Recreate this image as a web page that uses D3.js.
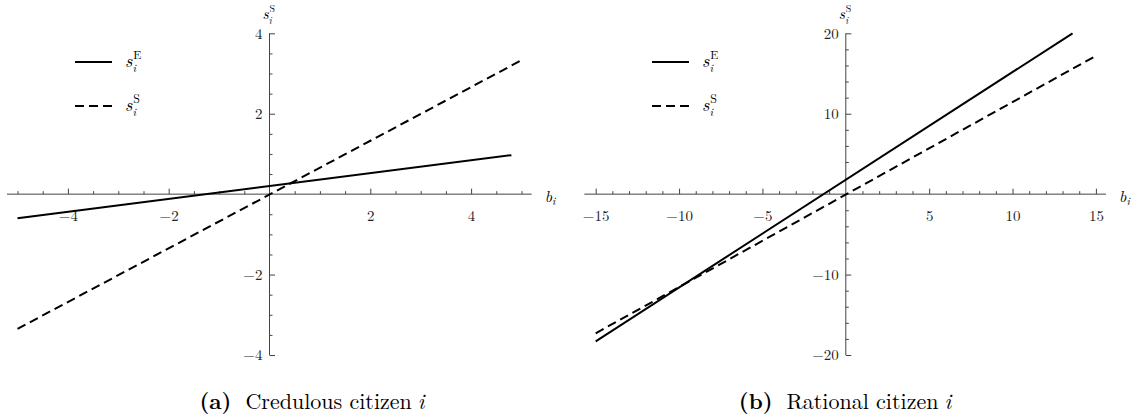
<!DOCTYPE html>
<html>
<head>
<meta charset="utf-8">
<script src="https://cdn.jsdelivr.net/npm/d3@7/dist/d3.min.js"></script>
<style>
  body { margin: 0; background: #fff; }
  svg { display: block; }
</style>
</head>
<body>
<svg id="chart" width="1136" height="419"></svg>
<script>
// ---------- DATA ----------
// panel (a): credulous citizen
const credXDomain = [-5, 5];
const credYDomain = [-4, 4];
const credXTicks = [-4, -2, 2, 4];
const credYTicks = [-4, -2, 2, 4];
const credMinorStep = 0.5;
const credSE = [{ b: -5, s: -0.6 }, { b: 4.8, s: 0.97 }];   // s_i^E (solid)
const credSS = [{ b: -5, s: -3.35 }, { b: 5, s: 3.33 }];    // s_i^S (dashed)

// panel (b): rational citizen
const ratXDomain = [-15, 15];
const ratYDomain = [-20, 20];
const ratXTicks = [-15, -10, -5, 5, 10, 15];
const ratYTicks = [-20, -10, 10, 20];
const ratXMinorStep = 1;
const ratYMinorStep = 2;
const ratSE = [{ b: -15, s: -18.3 }, { b: 13.6, s: 20 }];    // s_i^E (solid)
const ratSS = [{ b: -15, s: -17.3 }, { b: 15, s: 17.2 }];    // s_i^S (dashed)

const legendSup = ["E", "S"];
const captionTags = ["(a)", "(b)"];
const captionTexts = ["Credulous citizen", "Rational citizen"];

// ---------- DRAWING ----------
const svg = d3.select("#chart");
const serif = '"Latin Modern Roman", "CMU Serif", "Liberation Serif", serif';
const axisColor = "#444";
const fmt = d => (d < 0 ? "\u2212" + Math.abs(d) : String(d));

function txt(g) {
  return g.append("text").style("font-family", serif);
}

// s with stacked subscript i and superscript, as ONE text element
function mathS(g, x, y, size, sup) {
  const t = txt(g).attr("x", x).attr("y", y).style("font-size", size + "px");
  t.append("tspan").style("font-style", "italic").text("s");
  const w = t.node().getComputedTextLength();
  t.append("tspan").attr("x", x + w + 0.8).attr("y", y - size * 0.46)
    .style("font-size", (size * 0.66) + "px").text(sup);
  t.append("tspan").attr("x", x + w + 0.2).attr("y", y + size * 0.3)
    .style("font-size", (size * 0.64) + "px").style("font-style", "italic").text("i");
}

function panel(cfg) {
  const g = svg.append("g");
  const x = d3.scaleLinear().domain(cfg.xDomain).range(cfg.xRange);
  const y = d3.scaleLinear().domain(cfg.yDomain).range([355, 33.3]);
  const x0 = x(0), y0 = y(0);

  g.append("line").attr("x1", cfg.xLine[0]).attr("x2", cfg.xLine[1])
    .attr("y1", y0).attr("y2", y0).attr("stroke", axisColor).attr("stroke-width", 1);
  g.append("line").attr("x1", x0).attr("x2", x0)
    .attr("y1", y(cfg.yDomain[0])).attr("y2", y(cfg.yDomain[1]))
    .attr("stroke", axisColor).attr("stroke-width", 1);

  const minorX = d3.range(cfg.xDomain[0], cfg.xDomain[1] + 1e-9, cfg.xMinor)
    .filter(v => Math.abs(v) > 1e-9 && !cfg.xTicks.includes(v));
  const minorY = d3.range(cfg.yDomain[0], cfg.yDomain[1] + 1e-9, cfg.yMinor)
    .filter(v => Math.abs(v) > 1e-9 && !cfg.yTicks.includes(v));

  const styleTicks = s => s.selectAll("text")
    .style("font-family", serif).style("font-size", "15px").attr("fill", "#222");

  g.append("g").attr("transform", `translate(0,${y0})`)
    .call(d3.axisBottom(x).tickValues(minorX).tickSizeInner(-3).tickSizeOuter(0).tickFormat(""))
    .call(s => s.select(".domain").remove())
    .call(s => s.selectAll("line").attr("stroke", axisColor));
  g.append("g").attr("transform", `translate(0,${y0})`)
    .call(d3.axisBottom(x).tickValues(cfg.xTicks).tickSizeInner(-5.5).tickSizeOuter(0)
      .tickPadding(16.5).tickFormat(fmt))
    .call(s => s.select(".domain").remove())
    .call(s => s.selectAll("line").attr("stroke", axisColor))
    .call(styleTicks);

  g.append("g").attr("transform", `translate(${x0},0)`)
    .call(d3.axisLeft(y).tickValues(minorY).tickSizeInner(-3).tickSizeOuter(0).tickFormat(""))
    .call(s => s.select(".domain").remove())
    .call(s => s.selectAll("line").attr("stroke", axisColor));
  g.append("g").attr("transform", `translate(${x0},0)`)
    .call(d3.axisLeft(y).tickValues(cfg.yTicks).tickSizeInner(-5.5).tickSizeOuter(0)
      .tickPadding(7).tickFormat(fmt))
    .call(s => s.select(".domain").remove())
    .call(s => s.selectAll("line").attr("stroke", axisColor))
    .call(styleTicks);

  const line = d3.line().x(d => x(d.b)).y(d => y(d.s));
  g.append("path").datum(cfg.se).attr("d", line)
    .attr("fill", "none").attr("stroke", "#000").attr("stroke-width", 2);
  g.append("path").datum(cfg.ss).attr("d", line)
    .attr("fill", "none").attr("stroke", "#000").attr("stroke-width", 2)
    .attr("stroke-dasharray", "9,5");

  // axis labels
  mathS(g, x0 - 7, 19, 15, "S");
  const bt = txt(g).attr("x", cfg.xLine[1] + 13).attr("y", 202).style("font-size", "16px");
  bt.append("tspan").style("font-style", "italic").text("b");
  bt.append("tspan").attr("dy", 3).style("font-size", "11px").style("font-style", "italic").text("i");

  // legend
  const lx = cfg.legendX;
  [62, 106].forEach((ly, i) => {
    g.append("line").attr("x1", lx).attr("x2", lx + 37).attr("y1", ly).attr("y2", ly)
      .attr("stroke", "#000").attr("stroke-width", 2)
      .attr("stroke-dasharray", i === 1 ? "9,5" : null);
    mathS(g, lx + 50, ly + 5, 18, legendSup[i]);
  });

  // caption
  const cap = txt(g).attr("x", cfg.capX).attr("y", 409)
    .style("font-size", "22px").attr("text-anchor", "middle");
  cap.append("tspan").style("font-weight", "bold").text(cfg.tag);
  cap.append("tspan").attr("dx", 14).text(cfg.caption);
  cap.append("tspan").attr("dx", 6).style("font-style", "italic").text("i");
}

panel({
  xDomain: credXDomain, yDomain: credYDomain, xTicks: credXTicks, yTicks: credYTicks,
  xMinor: credMinorStep, yMinor: credMinorStep, se: credSE, ss: credSS,
  xRange: [17.5, 521.5], xLine: [7, 531.7], legendX: 75, capX: 312,
  tag: captionTags[0], caption: captionTexts[0]
});
panel({
  xDomain: ratXDomain, yDomain: ratYDomain, xTicks: ratXTicks, yTicks: ratYTicks,
  xMinor: ratXMinorStep, yMinor: ratYMinorStep, se: ratSE, ss: ratSS,
  xRange: [595.7, 1095.9], xLine: [584.3, 1106], legendX: 652, capX: 845,
  tag: captionTags[1], caption: captionTexts[1]
});
</script>
</body>
</html>
